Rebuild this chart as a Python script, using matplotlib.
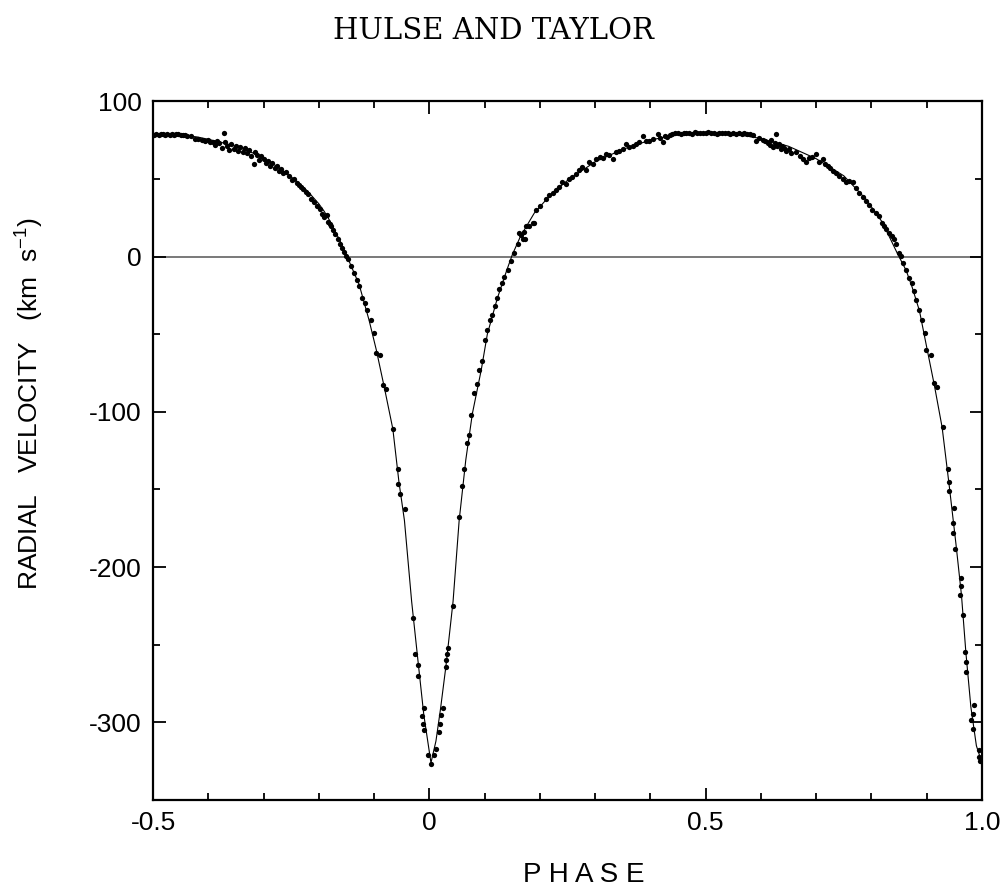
import matplotlib
matplotlib.use("Agg")
import matplotlib.pyplot as plt
from matplotlib.ticker import MultipleLocator

plt.rcParams["font.family"] = ["Liberation Sans", "DejaVu Sans"]
plt.rcParams["mathtext.default"] = "regular"

# fitted velocity curve
curve_phase = [-0.50, -0.45, -0.42, -0.40, -0.38, -0.36, -0.34, -0.32, -0.30, -0.28, -0.26,
               -0.24, -0.22, -0.20, -0.19, -0.18, -0.17, -0.16, -0.15, -0.127, -0.109, -0.096,
               -0.081, -0.066, -0.055, -0.045, -0.032, -0.020, -0.010, 0.003, 0.012, 0.020,
               0.030, 0.043, 0.054, 0.066, 0.078, 0.094, 0.105, 0.123, 0.140, 0.150, 0.165,
               0.19, 0.22, 0.25, 0.30, 0.35, 0.40, 0.45, 0.50, 0.55, 0.60, 0.65, 0.70, 0.75,
               0.79, 0.82, 0.847, 0.863, 0.874, 0.887, 0.901, 0.914, 0.928, 0.941, 0.953,
               0.963, 0.971, 0.980, 0.990, 1.0]
curve_vel = [78.5, 78.2, 77.0, 75.5, 73.8, 72.0, 69.5, 66.8, 63.0, 59.0, 54.0,
             48.5, 42.0, 34.0, 29.0, 23.0, 16.0, 9.0, 1.0, -18, -41, -60,
             -85, -111, -145, -170, -222, -262, -295, -326, -312, -292,
             -264, -222, -170, -131, -101, -73, -50, -27, -9, 1, 13,
             28, 40, 49, 61, 69, 75, 78.6, 79.5, 79.0, 76.0, 71.0, 63.0, 52.0,
             37, 22, 2, -9, -20, -35, -60, -83, -110, -148, -185,
             -218, -255, -290, -315, -326]

wing_phase = [-0.498, -0.494, -0.490, -0.486, -0.482, -0.478, -0.474, -0.470, -0.466, -0.462,
              -0.458, -0.454, -0.450, -0.446, -0.442, -0.438, -0.432, -0.424, -0.418, -0.412,
              -0.406, -0.400, -0.396, -0.392, -0.388, -0.384, -0.380, -0.376, -0.372, -0.370,
              -0.366, -0.362, -0.358, -0.354, -0.350, -0.346, -0.342, -0.338, -0.334, -0.330,
              -0.326, -0.322, -0.318, -0.316, -0.312, -0.308, -0.304, -0.300, -0.296, -0.292,
              -0.288, -0.284, -0.280, -0.276, -0.272, -0.268, -0.264, -0.260, -0.254, -0.248,
              -0.244, -0.240, -0.236, -0.232, -0.228, -0.224, -0.220, -0.214, -0.208, -0.204,
              -0.198, -0.194, -0.190, -0.186, -0.183, -0.180, -0.177, -0.174, -0.170, -0.166,
              -0.162, -0.158, -0.154]
wing_vel = [78.5, 78.8, 78.2, 78.6, 78.9, 78.3, 78.7, 78.4, 78.9, 78.2,
            78.6, 78.8, 78.1, 78.5, 78.0, 77.6, 77.8, 75.5, 75.8, 75.0,
            74.5, 75.2, 74.0, 73.6, 71.5, 74.2, 72.8, 70.2, 79.8, 73.5,
            71.0, 68.8, 72.6, 69.5, 71.2, 68.0, 70.4, 67.5, 69.6, 66.8,
            68.5, 64.5, 59.5, 67.0, 65.2, 62.0, 64.6, 63.0, 60.5, 61.8,
            58.5, 60.2, 57.0, 58.4, 55.2, 56.6, 53.8, 54.5, 51.8, 49.5,
            50.2, 47.5, 46.0, 44.6, 43.8, 41.5, 40.0, 37.2, 35.0, 32.8,
            30.5, 27.2, 25.6, 26.8, 22.5, 21.0, 19.5, 17.0, 14.2, 11.0,
            8.2, 5.4, 3.0]

dip_phase = [-0.151, -0.148, -0.142, -0.136, -0.130, -0.127, -0.121, -0.116, -0.112, -0.105,
             -0.100, -0.097, -0.090, -0.084, -0.078, -0.066, -0.057, -0.056, -0.053, -0.044,
             -0.030, -0.025, -0.021, -0.021, -0.013, -0.012, -0.010, -0.009, -0.003, 0.003,
             0.009, 0.013, 0.017, 0.019, 0.021, 0.024, 0.030, 0.030, 0.032, 0.033,
             0.042, 0.054, 0.059, 0.063, 0.069, 0.071, 0.075, 0.080, 0.086, 0.090,
             0.096, 0.100, 0.104, 0.109, 0.113, 0.118, 0.122, 0.127, 0.131, 0.136,
             0.142, 0.148, 0.154, 0.160, 0.166, 0.172, 0.174, 0.181, 0.190]
dip_vel = [0.5, -1.9, -6.3, -10.6, -15.0, -19.2, -26.7, -30.0, -34.3, -40.8,
           -49.4, -62.3, -63.4, -82.8, -85.0, -110.9, -136.8, -146.5, -153.0, -162.6,
           -233, -256, -263, -270, -296, -301, -305, -291, -321, -327,
           -321, -317, -306, -301, -295, -291, -264, -260, -256, -252,
           -225, -168, -148, -137, -120, -115, -102, -88, -82, -73,
           -67, -54, -47, -41, -37.5, -32, -27, -21, -17, -13,
           -8.4, -3.0, 2.4, 7.8, 14.0, 16.0, 11.0, 19.6, 21.8]

rise_phase = [0.163, 0.169, 0.175, 0.187, 0.193, 0.200, 0.211, 0.217, 0.223, 0.229,
              0.235, 0.241, 0.247, 0.253, 0.259, 0.265, 0.271, 0.277, 0.283, 0.289,
              0.296, 0.302, 0.308, 0.314, 0.320, 0.326, 0.332, 0.338, 0.344, 0.350,
              0.356, 0.362, 0.368, 0.374, 0.380, 0.386, 0.392, 0.398, 0.404, 0.413,
              0.418, 0.422, 0.427, 0.431, 0.436]
rise_vel = [15.3, 11.0, 19.6, 21.8, 30.0, 32.5, 37.0, 39.5, 41.0, 43.0,
            44.8, 47.7, 46.5, 50.0, 51.5, 53.0, 55.6, 57.4, 56.0, 60.6,
            59.8, 62.8, 64.0, 63.2, 66.0, 65.4, 62.8, 67.4, 68.0, 69.0,
            72.5, 70.6, 71.4, 72.5, 73.8, 77.9, 74.2, 74.6, 76.0, 79.0,
            76.2, 73.6, 77.5, 76.8, 78.0]

top_phase = [0.440, 0.445, 0.450, 0.455, 0.460, 0.465, 0.470, 0.475, 0.480, 0.485,
             0.490, 0.495, 0.500, 0.505, 0.510, 0.515, 0.520, 0.525, 0.530, 0.535,
             0.540, 0.545, 0.550, 0.555, 0.560, 0.565, 0.570, 0.575, 0.580, 0.585]
top_vel = [78.8, 79.3, 79.6, 79.1, 79.8, 79.4, 79.7, 79.2, 79.9, 79.5,
           79.8, 79.3, 79.6, 79.9, 79.4, 79.7, 79.2, 79.6, 79.8, 79.3,
           79.5, 79.1, 79.6, 78.8, 79.3, 78.9, 79.4, 78.6, 78.9, 78.3]

fall_phase = [0.592, 0.597, 0.603, 0.608, 0.612, 0.616, 0.619, 0.622, 0.625, 0.627,
              0.630, 0.633, 0.636, 0.639, 0.642, 0.646, 0.650, 0.655, 0.663, 0.670,
              0.676, 0.681, 0.687, 0.693, 0.699, 0.705, 0.712, 0.716, 0.721, 0.726,
              0.730, 0.736, 0.742, 0.748, 0.754, 0.760, 0.766, 0.772, 0.778, 0.784,
              0.790, 0.796, 0.802, 0.808, 0.814, 0.820, 0.823, 0.826, 0.832, 0.838,
              0.841, 0.844, 0.850, 0.853, 0.857, 0.862, 0.868, 0.874, 0.877, 0.880,
              0.886, 0.891, 0.897, 0.898, 0.907, 0.914, 0.918, 0.929, 0.938, 0.940,
              0.941, 0.950, 0.948, 0.948, 0.952, 0.962, 0.962, 0.961, 0.965, 0.970,
              0.971, 0.972, 0.986, 0.983, 0.980, 0.984, 0.994, 0.995, 0.996]
fall_vel = [74.6, 76.5, 75.0, 74.2, 73.4, 72.0, 74.8, 70.5, 73.2, 79.0,
            71.0, 72.6, 69.0, 71.4, 70.2, 68.0, 69.5, 66.5, 67.0, 65.0,
            62.5, 60.6, 63.5, 64.0, 66.0, 61.0, 62.8, 59.5, 58.4, 56.8,
            55.0, 53.6, 52.0, 50.0, 47.7, 48.5, 47.7, 44.0, 41.0, 38.6,
            35.8, 33.0, 30.0, 28.0, 26.0, 21.8, 19.6, 17.5, 15.3, 13.0,
            11.0, 7.8, 2.4, 0.2, -4.0, -8.4, -13.8, -17.0, -22.4, -27.8,
            -34.3, -40.8, -49.4, -60.0, -63.4, -81.7, -84.0, -110.0, -136.8, -145.4,
            -150.8, -161.6, -171.3, -177.8, -188.5, -207.0, -212.0, -217.7, -230.6, -254.4,
            -260.8, -267.8, -288.9, -294.3, -298.6, -304.0, -318.0, -322.3, -325.0]

fig = plt.figure(figsize=(10.04, 8.88), dpi=100)
ax = fig.add_axes([0.1524, 0.099, 0.8256, 0.787])

ax.axhline(0, color="#6e6e6e", linewidth=1.3, zorder=1)
ax.plot(curve_phase, curve_vel, color="black", linewidth=0.8, zorder=2)
for ph, v in [(wing_phase, wing_vel), (dip_phase, dip_vel), (rise_phase, rise_vel),
              (top_phase, top_vel), (fall_phase, fall_vel)]:
    ax.plot(ph, v, "o", color="black", markersize=3.8, markeredgewidth=0, zorder=3)

ax.set_xlim(-0.5, 1.0)
ax.set_ylim(-350, 100)
ax.xaxis.set_minor_locator(MultipleLocator(0.1))
ax.yaxis.set_minor_locator(MultipleLocator(50))
ax.set_xticks([-0.5, 0, 0.5, 1.0])
ax.set_xticklabels(["-0.5", "0", "0.5", "1.0"])
ax.set_yticks([100, 0, -100, -200, -300])
ax.set_yticklabels(["100", "0", "-100", "-200", "-300"])
ax.tick_params(which="both", direction="in", top=True, right=True, labelsize=19, width=1.3)
ax.tick_params(which="major", length=9, pad=8)
ax.tick_params(which="minor", length=5)
for s in ax.spines.values():
    s.set_linewidth(1.6)

fig.text(0.5817, 0.0146, "P H A S E", fontsize=20, ha="center", va="center")
fig.text(0.030, 0.546, "RADIAL   VELOCITY   (km  s$^{-1}$)", fontsize=19,
         rotation=90, ha="center", va="center")
fig.text(0.492, 0.965, "HULSE AND TAYLOR", family=["DejaVu Serif"],
         fontsize=21, ha="center", va="center")

fig.savefig("out.png", dpi=100)
